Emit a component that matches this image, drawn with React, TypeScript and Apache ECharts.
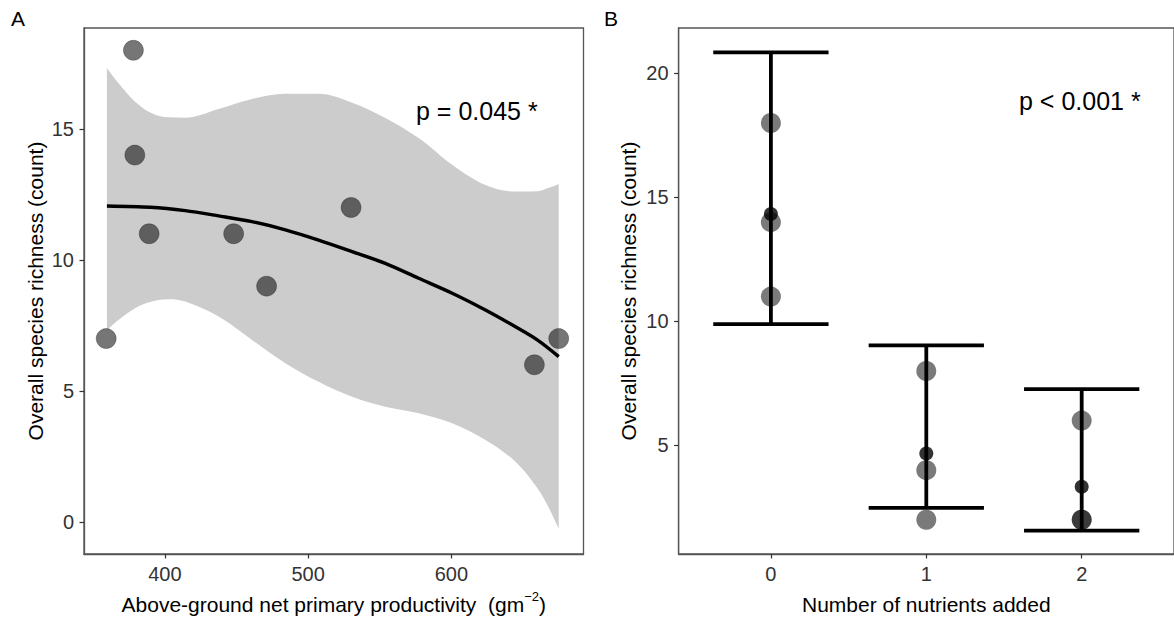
import React, { useEffect, useRef } from "react";
import * as echarts from "echarts";

// ---------- Panel A data ----------
const productivity = [378, 379, 389, 448, 471, 530, 359, 658, 675];
const richnessA = [18, 14, 11, 11, 9, 12, 7, 6, 7];

const fitX = [359.5, 389.7, 414.2, 437.5, 460.8, 484.1, 507.3, 530.7, 553.9, 577.2, 600.6, 623.8, 644.8, 660, 675];
const fitY = [12.06, 12.01, 11.88, 11.68, 11.46, 11.15, 10.76, 10.32, 9.87, 9.3, 8.73, 8.09, 7.45, 6.95, 6.31];

const bandX = [359.5, 367.6, 379.2, 390.9, 402.5, 414.2, 437.5, 460.8, 484.1, 507.3, 530.7, 553.9, 577.2, 600.6, 623.8, 644.8, 660, 668, 675];
const bandUpper = [17.32, 16.74, 16.04, 15.6, 15.44, 15.43, 15.76, 16.14, 16.34, 16.34, 16.0, 15.42, 14.65, 13.63, 12.86, 12.61, 12.62, 12.75, 12.9];
const bandLower = [7.33, 7.71, 8.16, 8.41, 8.5, 8.41, 7.84, 6.95, 6.06, 5.35, 4.78, 4.4, 4.15, 3.77, 3.13, 2.3, 1.3, 0.55, -0.25];

const ticksAX = [400, 500, 600];
const ticksAY = [0, 5, 10, 15];

// ---------- Panel B data ----------
const nutrients = [0, 0, 0, 1, 1, 1, 2, 2, 2];
const richnessB = [18, 14, 11, 8, 4, 2, 6, 2, 2];
const groupLevels = [0, 1, 2];
const groupMean = [14.33, 4.67, 3.33];
const ciLow = [9.89, 2.48, 1.56];
const ciHigh = [20.85, 9.03, 7.27];

const ticksBX = [0, 1, 2];
const ticksBY = [5, 10, 15, 20];

const FONT = '"Liberation Sans", Arial, Helvetica, sans-serif';
const FRAME = "#555555";
const TICK = "#333333";
const LABEL = "#333333";

export default function App() {
  const ref = useRef<HTMLDivElement>(null);

  useEffect(() => {
    if (!ref.current) return;
    const chart = echarts.init(ref.current, undefined, { renderer: "svg" });

    const pointsA = productivity.map((x, i) => [x, richnessA[i]]);
    const fitData = fitX.map((x, i) => [x, fitY[i]]);
    // [y, x] order so that the stack is computed on y
    const lowerData = bandX.map((x, i) => [bandLower[i], x]);
    const spanData = bandX.map((x, i) => [bandUpper[i] - bandLower[i], x]);
    const pointsB = nutrients.map((x, i) => [x, richnessB[i]]);
    const meansB = groupLevels.map((x, i) => [x, groupMean[i]]);
    const barsB = groupLevels.map((x, i) => [x, ciLow[i], ciHigh[i]]);

    const axisCommon = (ticks: number[]) => ({
      z: 5,
      axisLine: { show: true, onZero: false, lineStyle: { color: FRAME, width: 1.3 } },
      axisTick: { show: true, length: 4.5, customValues: ticks, lineStyle: { color: TICK, width: 1.2 } },
      axisLabel: {
        customValues: ticks,
        margin: 10,
        color: LABEL,
        fontSize: 20,
        fontFamily: FONT,
      },
      splitLine: { show: false },
    });

    const option: any = {
      animation: false,
      backgroundColor: "#ffffff",
      textStyle: { fontFamily: FONT },
      grid: [
        { left: 84, top: 28, width: 499.5, height: 526, show: true, borderColor: FRAME, borderWidth: 1.3, backgroundColor: "transparent" },
        { left: 678.6, top: 28, width: 498, height: 526, show: true, borderColor: FRAME, borderWidth: 1.3, backgroundColor: "transparent" },
      ],
      xAxis: [
        {
          type: "value",
          gridIndex: 0,
          min: 343.5,
          max: 692.3,
          ...axisCommon(ticksAX),
          name: "{a|Above-ground net primary productivity  (gm}{s|−2}{a|)}",
          nameLocation: "middle",
          nameGap: 36,
          nameTextStyle: {
            color: "#000",
            fontSize: 21,
            fontFamily: FONT,
            rich: {
              a: { fontSize: 21, lineHeight: 28, fontFamily: FONT, color: "#000" },
              s: { fontSize: 13, lineHeight: 13, verticalAlign: "top", fontFamily: FONT, color: "#000" },
            },
          },
        },
        {
          type: "value",
          gridIndex: 1,
          min: -0.594,
          max: 2.594,
          ...axisCommon(ticksBX),
          name: "Number of nutrients added",
          nameLocation: "middle",
          nameGap: 40,
          nameTextStyle: { color: "#000", fontSize: 21, fontFamily: FONT },
        },
      ],
      yAxis: [
        {
          type: "value",
          gridIndex: 0,
          min: -1.22,
          max: 18.85,
          ...axisCommon(ticksAY),
          name: "Overall species richness (count)",
          nameLocation: "middle",
          nameGap: 38,
          nameTextStyle: { color: "#000", fontSize: 21, fontFamily: FONT },
        },
        {
          type: "value",
          gridIndex: 1,
          min: 0.62,
          max: 21.83,
          ...axisCommon(ticksBY),
          name: "Overall species richness (count)",
          nameLocation: "middle",
          nameGap: 40,
          nameTextStyle: { color: "#000", fontSize: 21, fontFamily: FONT },
        },
      ],
      series: [
        {
          type: "line",
          name: "ci lower",
          xAxisIndex: 0,
          yAxisIndex: 0,
          data: lowerData,
          encode: { x: 1, y: 0 },
          stack: "ci",
          stackStrategy: "all",
          smooth: 0.35,
          showSymbol: false,
          silent: true,
          lineStyle: { width: 0, opacity: 0 },
          z: 1,
        },
        {
          type: "line",
          name: "ci band",
          xAxisIndex: 0,
          yAxisIndex: 0,
          data: spanData,
          encode: { x: 1, y: 0 },
          stack: "ci",
          stackStrategy: "all",
          smooth: 0.35,
          showSymbol: false,
          silent: true,
          lineStyle: { width: 0, opacity: 0 },
          areaStyle: { color: "#cccccc", opacity: 1 },
          z: 1,
        },
        {
          type: "line",
          name: "fit",
          xAxisIndex: 0,
          yAxisIndex: 0,
          data: fitData,
          smooth: 0.3,
          showSymbol: false,
          lineStyle: { color: "#000", width: 3.4 },
          z: 2,
        },
        {
          type: "scatter",
          name: "plots A",
          xAxisIndex: 0,
          yAxisIndex: 0,
          data: pointsA,
          symbol: "circle",
          symbolSize: 20,
          itemStyle: { color: "rgba(0,0,0,0.67)", borderColor: "rgba(0,0,0,0.35)", borderWidth: 1 },
          z: 3,
        },
        {
          type: "custom",
          name: "error bars",
          xAxisIndex: 1,
          yAxisIndex: 1,
          data: barsB,
          encode: { x: 0, y: [1, 2] },
          renderItem: (params: any, api: any) => {
            const x = api.value(0);
            const lo = api.coord([x, api.value(1)]);
            const hi = api.coord([x, api.value(2)]);
            const half = api.size([0.371, 0])[0];
            const st = { stroke: "#000", lineWidth: 3.8 };
            return {
              type: "group",
              children: [
                { type: "line", shape: { x1: lo[0], y1: lo[1], x2: hi[0], y2: hi[1] }, style: st },
                { type: "line", shape: { x1: hi[0] - half, y1: hi[1], x2: hi[0] + half, y2: hi[1] }, style: st },
                { type: "line", shape: { x1: lo[0] - half, y1: lo[1], x2: lo[0] + half, y2: lo[1] }, style: st },
              ],
            };
          },
          z: 2,
        },
        {
          type: "scatter",
          name: "plots B",
          xAxisIndex: 1,
          yAxisIndex: 1,
          data: pointsB,
          symbol: "circle",
          symbolSize: 20,
          itemStyle: { color: "rgba(0,0,0,0.65)" },
          z: 3,
        },
        {
          type: "scatter",
          name: "means B",
          xAxisIndex: 1,
          yAxisIndex: 1,
          data: meansB,
          symbol: "circle",
          symbolSize: 14,
          itemStyle: { color: "#000" },
          z: 4,
        },
      ],
      graphic: [
        { type: "text", x: 11, y: 18, style: { text: "A", fontSize: 21, fontFamily: FONT, fill: "#000", verticalAlign: "middle" } },
        { type: "text", x: 604, y: 18, style: { text: "B", fontSize: 21, fontFamily: FONT, fill: "#000", verticalAlign: "middle" } },
        { type: "text", x: 416, y: 111, style: { text: "p = 0.045 *", fontSize: 25, fontFamily: FONT, fill: "#000", verticalAlign: "middle", align: "left" } },
        { type: "text", x: 1019, y: 101, style: { text: "p < 0.001 *", fontSize: 25, fontFamily: FONT, fill: "#000", verticalAlign: "middle", align: "left" } },
      ],
    };

    chart.setOption(option);
    return () => chart.dispose();
  }, []);

  return (
    <div
      ref={ref}
      style={{ position: "fixed", left: 0, top: 0, width: 1174, height: 623, background: "#fff" }}
    />
  );
}
